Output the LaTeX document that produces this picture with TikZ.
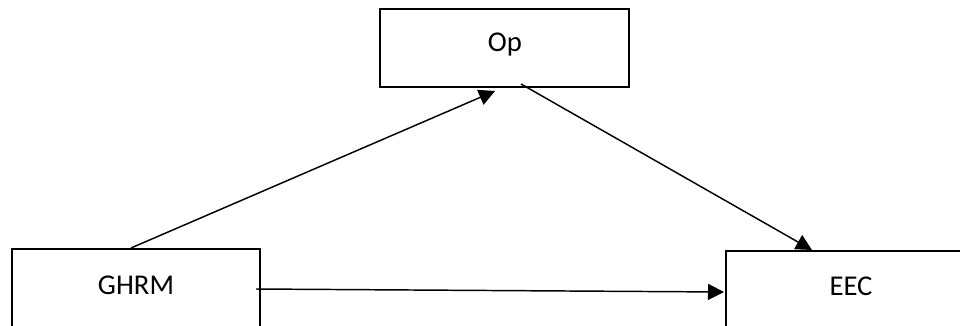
\documentclass[tikz,border=0pt]{standalone}
\usepackage{fontspec}
\setmainfont{Carlito}
\usetikzlibrary{arrows.meta,calc}
\tikzset{
  box/.style={draw=black,line width=1.5pt,fill=white,rectangle,inner sep=0pt},
  lbl/.style={inner sep=0pt,font=\fontsize{21.5pt}{25pt}\selectfont},
  conn/.style={line width=1.1pt,-{Triangle[length=12pt,width=12pt]}}
}
\begin{document}
\begin{tikzpicture}[x=0.75pt,y=-0.75pt]
\useasboundingbox (0,0) rectangle (960,325);
\clip (0,0) rectangle (960,325);
\fill[white] (0,0) rectangle (960,325);
\node[box,minimum width=249*0.75pt,minimum height=78*0.75pt] (op) at (504.5,48) {};
\node[box,minimum width=248*0.75pt,minimum height=200*0.75pt] (ghrm) at (136,349) {};
\node[box,minimum width=300*0.75pt,minimum height=200*0.75pt] (eec) at (876,351) {};
\node[lbl] (opt) at (505,45) {Op};
\node[lbl] (ghrmt) at (136,285) {GHRM};
\node[lbl] (eect) at (851,286) {EEC};
\coordinate (a1) at ($(ghrm.north west)+(120,0)$);
\coordinate (a2) at ($(op.south west)+(116,3)$);
\coordinate (b1) at ($(op.south west)+(142,-4)$);
\coordinate (b2) at ($(eec.north west)+(87,0)$);
\coordinate (c1) at ($(ghrm.north east)+(-5,41)$);
\coordinate (c2) at ($(eec.north west)+(-1,42)$);
\draw[conn] (a1) -- (a2);
\draw[conn] (b1) -- (b2);
\draw[conn] (c1) -- (c2);
\end{tikzpicture}
\end{document}
